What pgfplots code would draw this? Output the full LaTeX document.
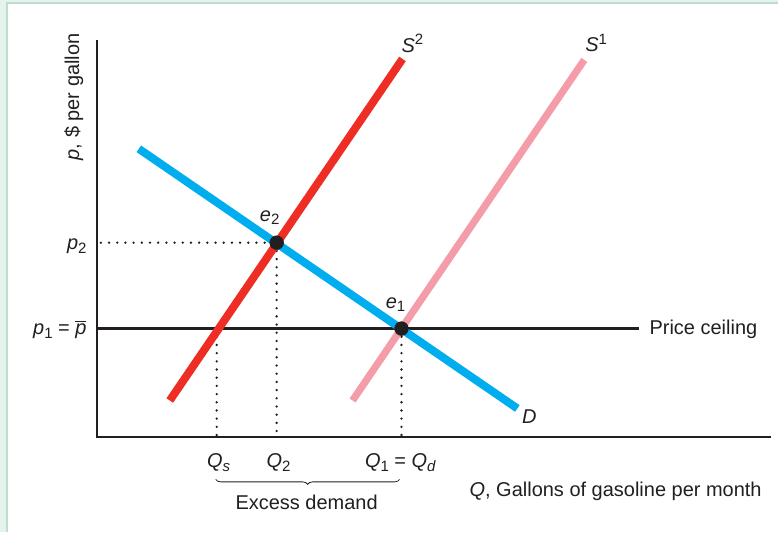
\documentclass[border=0pt]{standalone}
\usepackage{fontspec}
\setmainfont{Liberation Sans}
\usepackage{pgfplots}
\pgfplotsset{compat=1.18}
\usetikzlibrary{decorations.pathreplacing}
\definecolor{dcyan}{HTML}{00AEEF}
\definecolor{sred}{HTML}{EE2D24}
\definecolor{spink}{HTML}{F59CA9}
\definecolor{ink}{HTML}{231F20}
\definecolor{mint}{HTML}{E6F3ED}
\definecolor{mintline}{HTML}{BFDDCE}
\newcommand{\iv}[1]{\textit{#1}}
\newcommand{\sub}[1]{\raisebox{-0.35ex}{\fontsize{7.5}{8}\selectfont #1}}
\newcommand{\sups}[1]{\raisebox{0.75ex}{\fontsize{7.5}{8}\selectfont #1}}
\begin{document}
\begin{tikzpicture}
\begin{axis}[x=0.5pt,y=0.5pt,xmin=0,xmax=779,ymin=0,ymax=533,hide axis,clip=false,scale only axis]
\fill[mint] (axis cs:0,0) rectangle (axis cs:779,533);
\fill[white] (axis cs:7,0) rectangle (axis cs:779,530);
\draw[mintline, line width=1pt] (axis cs:7,0) -- (axis cs:7,530) -- (axis cs:779,530);
% axes
\addplot[ink, line width=1pt] coordinates {(97,493) (97,95) (772,95)};
% price ceiling
\addplot[ink, line width=1.1pt] coordinates {(97,204) (640,204)};
% dotted guides
\addplot[ink, line width=1.3pt, line cap=round, dash pattern=on 0pt off 4.1pt] coordinates {(101,290) (277,290)};
\addplot[ink, line width=1.3pt, line cap=round, dash pattern=on 0pt off 4.1pt] coordinates {(277,290) (277,97)};
\addplot[ink, line width=1.3pt, line cap=round, dash pattern=on 0pt off 4.1pt] coordinates {(217,204) (217,97)};
\addplot[ink, line width=1.3pt, line cap=round, dash pattern=on 0pt off 4.1pt] coordinates {(402,204) (402,97)};
% supply S1
\addplot[spink, line width=3.6pt] coordinates {(353,132) (585,473)};
% demand
\addplot[dcyan, line width=4pt] coordinates {(139,384) (518,124)};
% supply S2
\addplot[sred, line width=4pt] coordinates {(170,132) (403,474)};
% equilibria
\addplot[only marks, mark=*, mark size=3.4pt, ink, fill=ink] coordinates {(277,290) (402,204)};
% labels
\begin{scope}[every node/.style={text=ink, inner sep=0pt}]
\node at (axis cs:413,490) {\iv{S}\sups{2}};
\node at (axis cs:597,490) {\iv{S}\sups{1}};
\node at (axis cs:270,315) {\iv{e}\sub{2}};
\node at (axis cs:396,228) {\iv{e}\sub{1}};
\node[anchor=east] at (axis cs:87,286) {\iv{p}\sub{2}};
\node[anchor=east] at (axis cs:87,203) {\iv{p}\sub{1} = $\overline{\hbox{\iv{p}}}$};
\node[anchor=west] at (axis cs:650,203) {Price ceiling};
\node at (axis cs:530,116) {\iv{D}};
\node at (axis cs:219,70) {\iv{Q}\sub{\iv{s}}};
\node at (axis cs:279,70) {\iv{Q}\sub{2}};
\node at (axis cs:401,70) {\iv{Q}\sub{1} = \iv{Q}\sub{\iv{d}}};
\node at (axis cs:307,30) {Excess demand};
\node[anchor=east] at (axis cs:763,41) {\iv{Q}, Gallons of gasoline per month};
\node[rotate=90] at (axis cs:74,436) {\iv{p}, \$ per gallon};
\end{scope}
\draw[ink, line width=0.4pt, decorate, decoration={brace, mirror, amplitude=2.5pt}] (axis cs:216,53) -- (axis cs:400,53);
\end{axis}
\end{tikzpicture}
\end{document}
